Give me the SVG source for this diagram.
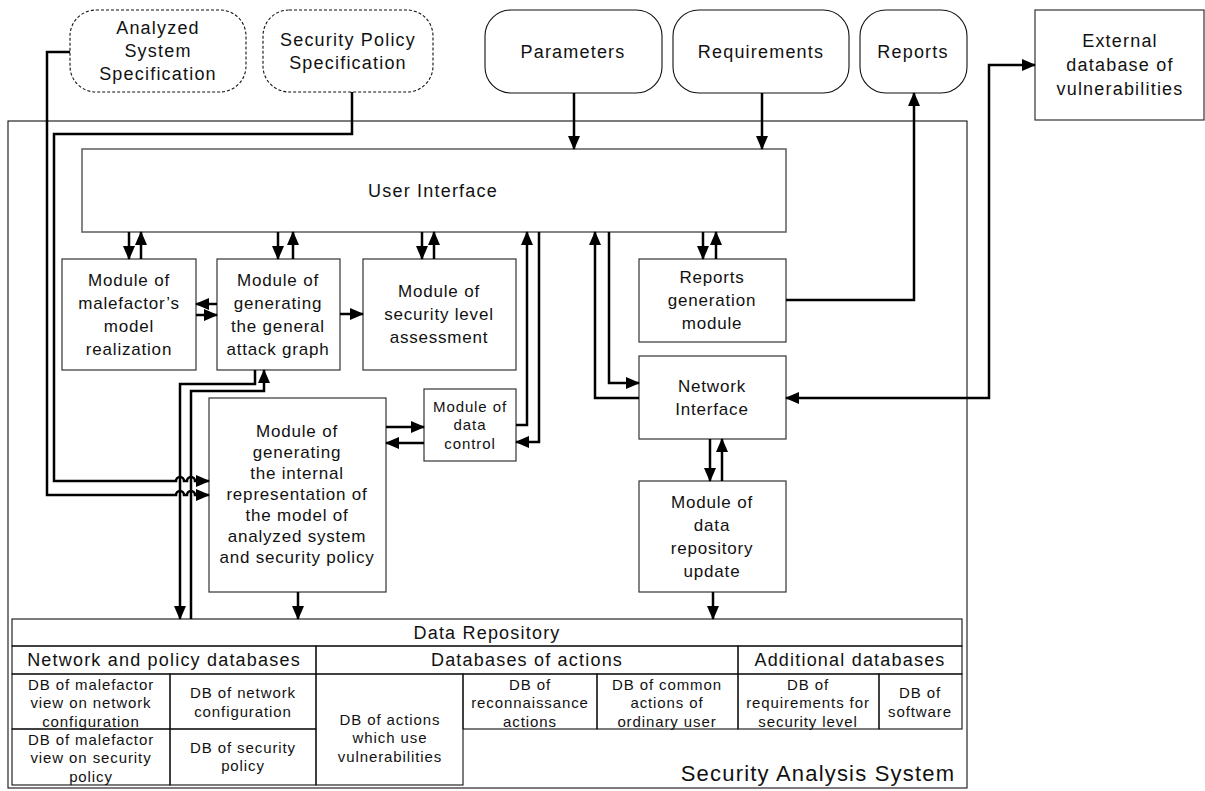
<svg xmlns="http://www.w3.org/2000/svg" width="1205" height="791" viewBox="0 0 1205 791">
<style>
text{font-family:"Liberation Sans",Arial,sans-serif;fill:#111;text-anchor:middle}
.t18{font-size:18px;letter-spacing:1.2px}
.t17{font-size:17px;letter-spacing:0.8px}
.t15{font-size:15px;letter-spacing:0.9px}
.t22{font-size:22px;letter-spacing:1.2px}
.box{fill:#fff;stroke:#333;stroke-width:1.2}
.ui{fill:#fff;stroke:#666;stroke-width:1.6}
.rnd{fill:#fff;stroke:#111;stroke-width:1.1}
.dash{fill:#fff;stroke:#111;stroke-width:1.1;stroke-dasharray:3 2}
.frame{fill:none;stroke:#111;stroke-width:1.1}
.cell{fill:none;stroke:#111;stroke-width:1.1}
.c{fill:none;stroke:#000;stroke-width:2.5}
.a{marker-end:url(#ah)}
</style>
<defs>
<marker id="ah" markerUnits="userSpaceOnUse" markerWidth="14" markerHeight="12" refX="13" refY="6" orient="auto-start-reverse" viewBox="0 0 14 12">
<path d="M0,0 L14,6 L0,12 z" fill="#000"/>
</marker>
</defs>

<g id="frame">
<rect class="frame" x="8" y="121" width="959" height="667"/>
<text class="t22" x="818" y="781">Security Analysis System</text>
</g>

<g id="analyzed-spec">
<rect class="dash" x="70" y="10" width="176" height="82" rx="26"/>
<text class="t18" x="158" y="34">Analyzed</text>
<text class="t18" x="158" y="57">System</text>
<text class="t18" x="158" y="80">Specification</text>
</g>
<g id="policy-spec">
<rect class="dash" x="263" y="10" width="170" height="82" rx="26"/>
<text class="t18" x="348" y="46">Security Policy</text>
<text class="t18" x="348" y="69">Specification</text>
</g>
<g id="parameters">
<rect class="rnd" x="485" y="10" width="177" height="83" rx="26"/>
<text class="t18" x="573" y="58">Parameters</text>
</g>
<g id="requirements">
<rect class="rnd" x="673" y="10" width="176" height="83" rx="26"/>
<text class="t18" x="761" y="58">Requirements</text>
</g>
<g id="reports">
<rect class="rnd" x="860" y="10" width="107" height="83" rx="26"/>
<text class="t18" x="913" y="58">Reports</text>
</g>
<g id="external-db">
<rect class="box" x="1035" y="10" width="169" height="110"/>
<text class="t18" x="1120" y="47">External</text>
<text class="t18" x="1120" y="71">database of</text>
<text class="t18" x="1120" y="95">vulnerabilities</text>
</g>

<g id="user-interface">
<rect class="ui" x="82" y="149" width="704" height="83"/>
<text class="t18" x="433" y="197">User Interface</text>
</g>
<g id="malefactor-model">
<rect class="box" x="62" y="259" width="134" height="111"/>
<text class="t17" x="129" y="286">Module of</text>
<text class="t17" x="129" y="309">malefactor’s</text>
<text class="t17" x="129" y="332">model</text>
<text class="t17" x="129" y="355">realization</text>
</g>
<g id="attack-graph">
<rect class="box" x="217" y="259" width="123" height="111"/>
<text class="t17" x="278" y="286">Module of</text>
<text class="t17" x="278" y="309">generating</text>
<text class="t17" x="278" y="332">the general</text>
<text class="t17" x="278" y="355">attack graph</text>
</g>
<g id="security-level">
<rect class="box" x="363" y="259" width="153" height="111"/>
<text class="t17" x="439" y="297">Module of</text>
<text class="t17" x="439" y="320">security level</text>
<text class="t17" x="439" y="343">assessment</text>
</g>
<g id="reports-generation">
<rect class="box" x="639" y="259" width="147" height="83"/>
<text class="t17" x="712" y="283">Reports</text>
<text class="t17" x="712" y="306">generation</text>
<text class="t17" x="712" y="329">module</text>
</g>
<g id="network-interface">
<rect class="box" x="639" y="356" width="147" height="83"/>
<text class="t17" x="712" y="392">Network</text>
<text class="t17" x="712" y="415">Interface</text>
</g>
<g id="data-control">
<rect class="box" x="424" y="389" width="92" height="72"/>
<text class="t15" x="470" y="412">Module of</text>
<text class="t15" x="470" y="430">data</text>
<text class="t15" x="470" y="449">control</text>
</g>
<g id="internal-representation">
<rect class="box" x="209" y="398" width="177" height="194"/>
<text class="t17" x="297" y="437">Module of</text>
<text class="t17" x="297" y="458">generating</text>
<text class="t17" x="297" y="479">the internal</text>
<text class="t17" x="297" y="500">representation of</text>
<text class="t17" x="297" y="521">the model of</text>
<text class="t17" x="297" y="542">analyzed system</text>
<text class="t17" x="297" y="563">and security policy</text>
</g>
<g id="repository-update">
<rect class="box" x="639" y="481" width="147" height="111"/>
<text class="t17" x="712" y="508">Module of</text>
<text class="t17" x="712" y="531">data</text>
<text class="t17" x="712" y="554">repository</text>
<text class="t17" x="712" y="577">update</text>
</g>

<g id="data-repository">
<rect class="cell" x="12" y="619" width="950" height="27"/>
<rect class="cell" x="12" y="646" width="304" height="28"/>
<rect class="cell" x="316" y="646" width="422" height="28"/>
<rect class="cell" x="738" y="646" width="224" height="28"/>
<rect class="cell" x="12" y="674" width="158" height="55"/>
<rect class="cell" x="170" y="674" width="146" height="55"/>
<rect class="cell" x="12" y="729" width="158" height="56"/>
<rect class="cell" x="170" y="729" width="146" height="56"/>
<rect class="cell" x="316" y="674" width="147" height="111"/>
<rect class="cell" x="463" y="674" width="134" height="55"/>
<rect class="cell" x="597" y="674" width="141" height="55"/>
<rect class="cell" x="738" y="674" width="141" height="55"/>
<rect class="cell" x="879" y="674" width="83" height="55"/>
<text class="t18" x="487" y="639">Data Repository</text>
<text class="t18" x="164" y="666">Network and policy databases</text>
<text class="t18" x="527" y="666">Databases of actions</text>
<text class="t18" x="850" y="666">Additional databases</text>
<text class="t15" x="91" y="690">DB of malefactor</text>
<text class="t15" x="91" y="708">view on network</text>
<text class="t15" x="91" y="727">configuration</text>
<text class="t15" x="243" y="698">DB of network</text>
<text class="t15" x="243" y="717">configuration</text>
<text class="t15" x="91" y="745">DB of malefactor</text>
<text class="t15" x="91" y="763">view on security</text>
<text class="t15" x="91" y="782">policy</text>
<text class="t15" x="243" y="753">DB of security</text>
<text class="t15" x="243" y="771">policy</text>
<text class="t15" x="390" y="725">DB of actions</text>
<text class="t15" x="390" y="743">which use</text>
<text class="t15" x="390" y="762">vulnerabilities</text>
<text class="t15" x="530" y="690">DB of</text>
<text class="t15" x="530" y="708">reconnaissance</text>
<text class="t15" x="530" y="727">actions</text>
<text class="t15" x="667" y="690">DB of common</text>
<text class="t15" x="667" y="708">actions of</text>
<text class="t15" x="667" y="727">ordinary user</text>
<text class="t15" x="808" y="690">DB of</text>
<text class="t15" x="808" y="708">requirements for</text>
<text class="t15" x="808" y="727">security level</text>
<text class="t15" x="920" y="698">DB of</text>
<text class="t15" x="920" y="717">software</text>
</g>

<g id="connectors">
<path class="c a" d="M574,93 V149"/>
<path class="c a" d="M762,93 V149"/>
<path class="c a" d="M786,300 H914 V93"/>
<path class="c" d="M1035,65 H989 V398 H786" marker-start="url(#ah)" marker-end="url(#ah)"/>
<path class="c a" d="M352,92 V134 H54 V481 H176 a4,4 0 0 1 8,0 H187 a4,4 0 0 1 8,0 H209"/>
<path class="c a" d="M70,52 H47 V495 H176 a4,4 0 0 1 8,0 H187 a4,4 0 0 1 8,0 H209"/>
<path class="c a" d="M129,232 V259"/>
<path class="c a" d="M141,259 V232"/>
<path class="c a" d="M278,232 V259"/>
<path class="c a" d="M293,259 V232"/>
<path class="c a" d="M422,232 V259"/>
<path class="c a" d="M434,259 V232"/>
<path class="c a" d="M703,232 V259"/>
<path class="c a" d="M716,259 V232"/>
<path class="c a" d="M217,304 H196"/>
<path class="c a" d="M196,315 H217"/>
<path class="c a" d="M340,314 H363"/>
<path class="c a" d="M255,370 V384 H180 V619"/>
<path class="c a" d="M191,619 V391 H264 V370"/>
<path class="c a" d="M386,427 H424"/>
<path class="c a" d="M424,443 H386"/>
<path class="c a" d="M516,425 H527 V232"/>
<path class="c a" d="M539,232 V442 H516"/>
<path class="c a" d="M609,232 V383 H639"/>
<path class="c a" d="M639,398 H595 V232"/>
<path class="c a" d="M710,439 V481"/>
<path class="c a" d="M722,481 V439"/>
<path class="c a" d="M298,592 V619"/>
<path class="c a" d="M713,592 V619"/>
</g>
</svg>
